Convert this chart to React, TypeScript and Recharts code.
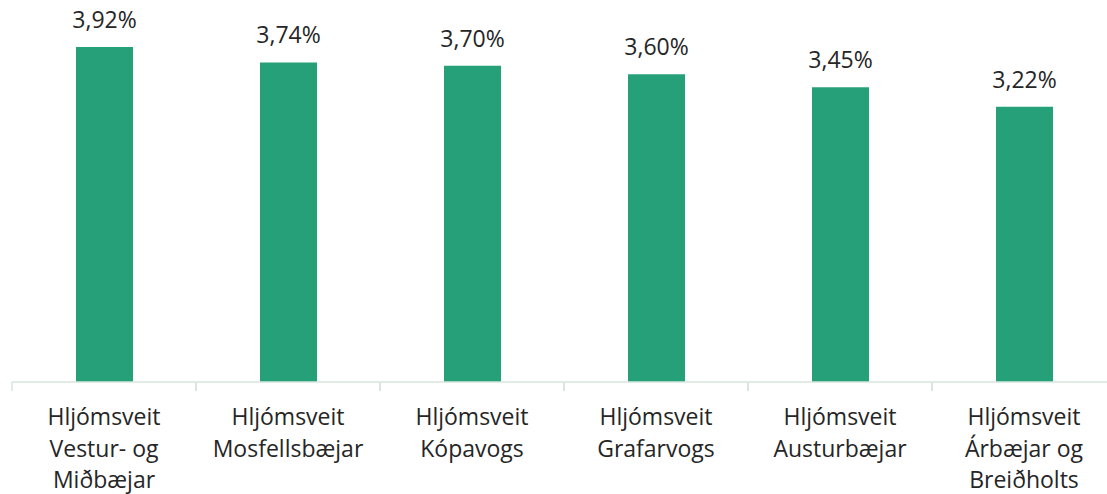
import React from "react";
import { BarChart, Bar, XAxis, YAxis, LabelList } from "recharts";

const categories: string[] = [
  "Hljómsveit\nVestur- og\nMiðbæjar",
  "Hljómsveit\nMosfellsbæjar",
  "Hljómsveit\nKópavogs",
  "Hljómsveit\nGrafarvogs",
  "Hljómsveit\nAusturbæjar",
  "Hljómsveit\nÁrbæjar og\nBreiðholts",
];
const values: number[] = [3.92, 3.74, 3.7, 3.6, 3.45, 3.22];

const data = categories.map((name, i) => ({ name, value: values[i] }));

const FONT = "'Open Sans', sans-serif";
const TEXT = "#262626";
const AXIS = "#D6E6DB";
const BAR = "#25A078";

const fmt = (v: any) => Number(v).toFixed(2).replace(".", ",") + "%";

const Tick = (props: any) => {
  const { x, y, payload } = props;
  const half = payload && payload.offset ? payload.offset : 92;
  const lines = String(payload.value).split("\n");
  return (
    <g>
      <line x1={x - half} x2={x - half} y1={y} y2={y + 9} stroke={AXIS} strokeWidth={1.5} />
      <line x1={x + half} x2={x + half} y1={y} y2={y + 9} stroke={AXIS} strokeWidth={1.5} />
      <text x={x} y={y} textAnchor="middle" fontFamily={FONT} fontSize={23} fill={TEXT}>
        {lines.map((l, i) => (
          <tspan key={i} x={x} dy={i === 0 ? 43 : 31.5}>
            {l}
          </tspan>
        ))}
      </text>
    </g>
  );
};

export default function App() {
  return (
    <div
      style={{
        position: "fixed",
        left: 0,
        top: 0,
        width: 1107,
        height: 494,
        overflow: "hidden",
        background: "#fff",
      }}
    >
      <BarChart
        width={1130}
        height={494}
        data={data}
        margin={{ top: 6, left: 12, right: 14, bottom: 0 }}
        barCategoryGap={0}
      >
        <XAxis
          dataKey="name"
          height={112}
          axisLine={{ stroke: AXIS, strokeWidth: 1.5 }}
          tickLine={false}
          tickSize={0}
          tickMargin={0}
          interval={0}
          tick={<Tick />}
        />
        <YAxis hide domain={[0, 4.4]} />
        <Bar dataKey="value" fill={BAR} barSize={57} isAnimationActive={false}>
          <LabelList
            dataKey="value"
            position="top"
            offset={19}
            formatter={fmt}
            style={{ fontFamily: FONT, fontSize: 23, fill: TEXT }}
          />
        </Bar>
      </BarChart>
    </div>
  );
}
